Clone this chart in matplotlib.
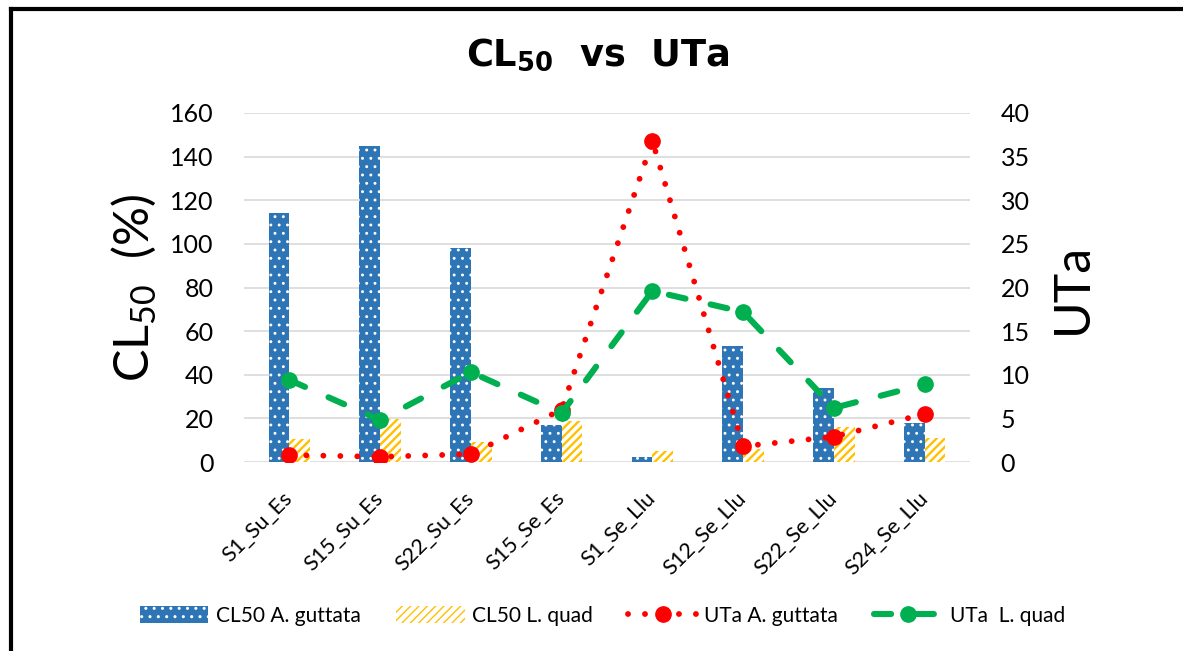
import numpy as np
import matplotlib.pyplot as plt
import matplotlib.transforms as mtransforms
from matplotlib.patches import Patch
from matplotlib.lines import Line2D

plt.rcParams['font.family'] = ['Lato', 'DejaVu Sans']
plt.rcParams['mathtext.fontset'] = 'custom'
plt.rcParams['mathtext.rm'] = 'Lato'
plt.rcParams['mathtext.bf'] = 'DejaVu Sans:bold'
plt.rcParams['mathtext.it'] = 'Lato:italic'

# sites / seasons
sites = ["S1_Su_Es", "S15_Su_Es", "S22_Su_Es", "S15_Se_Es",
         "S1_Se_Llu", "S12_Se_Llu", "S22_Se_Llu", "S24_Se_Llu"]
# CL50 (%) per species
cl50_guttata = [114, 145, 98, 17, 2.5, 53, 34, 18]
cl50_quad = [10.5, 19.5, 9, 19, 5, 6, 16, 11]
# UTa per species
uta_guttata = [0.8, 0.6, 0.9, 6.0, 36.8, 1.8, 2.9, 5.5]
uta_quad = [9.4, 4.8, 10.3, 5.6, 19.6, 17.2, 6.2, 8.9]

blue = "#2E75B6"
gold = "#FFC000"
red = "#FF0000"
green = "#00B050"
red_ls = (0, (0.01, 2.9))
green_ls = (0, (2.8, 4.2))

fig = plt.figure(figsize=(11.83, 6.51), dpi=100)
ax = fig.add_axes([244/1183, 1-462/651, 726/1183, 349/651])
ax2 = ax.twinx()

x = np.arange(len(sites))
w = 0.23
with plt.rc_context({'hatch.linewidth': 0.9}):
    ax.bar(x - w/2, cl50_guttata, w, color=blue, edgecolor="white", hatch="..", linewidth=0, zorder=2)
    blue_h = Patch(facecolor=blue, edgecolor="white", hatch="..", linewidth=0)
with plt.rc_context({'hatch.linewidth': 1.7}):
    ax.bar(x + w/2, cl50_quad, w, color="white", edgecolor=gold, hatch="////", linewidth=0, zorder=2)
    gold_h = Patch(facecolor="white", edgecolor=gold, hatch="////", linewidth=0)

ax2.plot(x, uta_guttata, color=red, linestyle=red_ls, linewidth=4.2,
         dash_capstyle="round", marker="o", markersize=11, zorder=3)
ax2.plot(x, uta_quad, color=green, linestyle=green_ls, linewidth=4.4,
         dash_capstyle="round", marker="o", markersize=11, zorder=4)

ax.set_xlim(-0.5, len(sites) - 0.5)
ax.set_ylim(0, 160)
ax.set_yticks(np.arange(0, 161, 20))
ax2.set_ylim(0, 40)
ax2.set_yticks(np.arange(0, 41, 5))

ax.grid(axis="y", color="#D9D9D9", linewidth=1.2, zorder=0)
ax.set_axisbelow(True)
for a in (ax, ax2):
    for s in a.spines.values():
        s.set_visible(False)
ax.tick_params(axis="y", length=0, pad=22, labelsize=18)
ax2.tick_params(axis="y", length=0, pad=22, labelsize=18)
ax.tick_params(axis="x", length=0)

ax.set_xticks(x)
ax.set_xticklabels(sites, rotation=45, ha="right", va="top", rotation_mode="anchor", fontsize=15.5)
offset = mtransforms.ScaledTranslation(-0.07, -0.21, fig.dpi_scale_trans)
for lab in ax.get_xticklabels():
    lab.set_transform(lab.get_transform() + offset)

fig.text(0.505, 1-56/651, r"CL$_{\mathbf{50}}$  vs  UTa", ha="center", va="center",
         fontsize=26.5, fontweight="bold", family="DejaVu Sans")
fig.text(133/1183, 1-288/651, r"CL$_{50}$  (%)", rotation=90, ha="center", va="center", fontsize=35)
fig.text(1073/1183, 1-288/651, "UTa", rotation=90, ha="center", va="center", fontsize=36)

handles = [
    blue_h,
    gold_h,
    Line2D([], [], color=red, linestyle=red_ls, linewidth=4.2, dash_capstyle="round",
           marker="o", markersize=11),
    Line2D([], [], color=green, linestyle=green_ls, linewidth=4.4, dash_capstyle="round",
           marker="o", markersize=11),
]
labels = ["CL50 A. guttata", "CL50 L. quad", "UTa A. guttata", "UTa  L. quad"]
fig.legend(handles, labels, loc="center", bbox_to_anchor=(0.509, 1-616/651), ncol=4,
           frameon=False, fontsize=15, handlelength=3.3, handleheight=0.9,
           handletextpad=0.35, columnspacing=1.7)

# outer frame
fig.add_artist(Line2D([11/1183, 11/1183], [0, 1-9/651], color="black", linewidth=3,
                      transform=fig.transFigure))
fig.add_artist(Line2D([11/1183, 1], [1-9/651, 1-9/651], color="black", linewidth=3,
                      transform=fig.transFigure))

fig.savefig("out.png", dpi=100)
